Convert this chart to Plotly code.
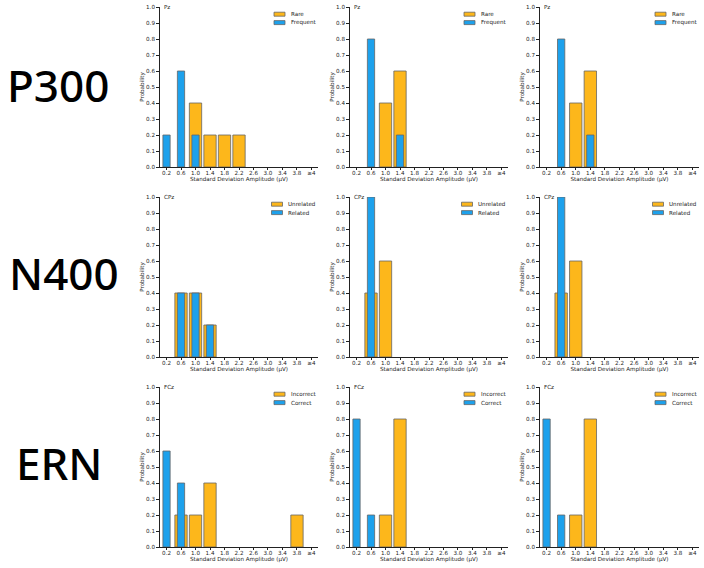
import plotly.graph_objects as go

# ---------------- data ----------------
bins = [0.2, 0.6, 1.0, 1.4, 1.8, 2.2, 2.6, 3.0, 3.4, 3.8, 4.2]
tick_labels = ["0.2", "0.6", "1.0", "1.4", "1.8", "2.2", "2.6", "3.0", "3.4", "3.8", "≥4"]

row_labels = ["P300", "N400", "ERN"]
channels = ["Pz", "CPz", "FCz"]
series_a_names = ["Rare", "Unrelated", "Incorrect"]     # orange
series_b_names = ["Frequent", "Related", "Correct"]     # blue

# P300 (Pz)
p300_rare = [
    [0, 0, 0.4, 0.2, 0.2, 0.2, 0, 0, 0, 0, 0],
    [0, 0, 0.4, 0.6, 0, 0, 0, 0, 0, 0, 0],
    [0, 0, 0.4, 0.6, 0, 0, 0, 0, 0, 0, 0],
]
p300_frequent = [
    [0.2, 0.6, 0.2, 0, 0, 0, 0, 0, 0, 0, 0],
    [0, 0.8, 0, 0.2, 0, 0, 0, 0, 0, 0, 0],
    [0, 0.8, 0, 0.2, 0, 0, 0, 0, 0, 0, 0],
]
# N400 (CPz)
n400_unrelated = [
    [0, 0.4, 0.4, 0.2, 0, 0, 0, 0, 0, 0, 0],
    [0, 0.4, 0.6, 0, 0, 0, 0, 0, 0, 0, 0],
    [0, 0.4, 0.6, 0, 0, 0, 0, 0, 0, 0, 0],
]
n400_related = [
    [0, 0.4, 0.4, 0.2, 0, 0, 0, 0, 0, 0, 0],
    [0, 1.0, 0, 0, 0, 0, 0, 0, 0, 0, 0],
    [0, 1.0, 0, 0, 0, 0, 0, 0, 0, 0, 0],
]
# ERN (FCz)
ern_incorrect = [
    [0, 0.2, 0.2, 0.4, 0, 0, 0, 0, 0, 0.2, 0],
    [0, 0, 0.2, 0.8, 0, 0, 0, 0, 0, 0, 0],
    [0, 0, 0.2, 0.8, 0, 0, 0, 0, 0, 0, 0],
]
ern_correct = [
    [0.6, 0.4, 0, 0, 0, 0, 0, 0, 0, 0, 0],
    [0.8, 0.2, 0, 0, 0, 0, 0, 0, 0, 0, 0],
    [0.8, 0.2, 0, 0, 0, 0, 0, 0, 0, 0, 0],
]

series_a = [p300_rare, n400_unrelated, ern_incorrect]
series_b = [p300_frequent, n400_related, ern_correct]

# ---------------- style ----------------
W, H = 704, 568
ORANGE = "#FDB71B"
BLUE = "#1DA1EC"
EDGE = "#666666"
FONT = "DejaVu Sans"
FS = 5.6
TXT = "#222222"

col_px = [(160, 318), (350, 508), (540, 699)]
row_px = [(7, 167), (197, 357), (387, 547)]
legend_left_offset = [44, 46.5, 44]   # px from right edge of plot to legend patch

fig = go.Figure()
layout = dict(
    width=W, height=H, margin=dict(l=0, r=0, t=0, b=0, autoexpand=False),
    paper_bgcolor="white", plot_bgcolor="white",
    barmode="overlay", font=dict(family=FONT, size=FS, color=TXT),
    showlegend=False,
)
annotations = []
shapes = []

k = 0
for r in range(3):
    for c in range(3):
        k += 1
        xa = "x" if k == 1 else f"x{k}"
        ya = "y" if k == 1 else f"y{k}"
        a_vals = series_a[r][c]
        b_vals = series_b[r][c]
        ax = [b for b, v in zip(bins, a_vals) if v > 0]
        ay = [v for v in a_vals if v > 0]
        bx = [b for b, v in zip(bins, b_vals) if v > 0]
        by = [v for v in b_vals if v > 0]
        fig.add_trace(go.Bar(
            x=ax, y=ay, width=0.34, name=series_a_names[r],
            marker=dict(color=ORANGE, line=dict(color=EDGE, width=0.8)),
            xaxis=xa, yaxis=ya, hoverinfo="skip",
        ))
        fig.add_trace(go.Bar(
            x=bx, y=by, width=0.2, name=series_b_names[r],
            marker=dict(color=BLUE, line=dict(color=EDGE, width=0.8)),
            xaxis=xa, yaxis=ya, hoverinfo="skip",
        ))
        x0, x1 = col_px[c]
        y0, y1 = row_px[r]
        pw, ph = x1 - x0, y1 - y0
        xd = [x0 / W, x1 / W]
        yd = [1 - y1 / H, 1 - y0 / H]
        xkey = "xaxis" if k == 1 else f"xaxis{k}"
        ykey = "yaxis" if k == 1 else f"yaxis{k}"
        layout[xkey] = dict(
            domain=xd, anchor=ya, range=[0.02, 4.38],
            tickmode="array", tickvals=bins, ticktext=tick_labels,
            ticks="outside", ticklen=2, tickwidth=0.8, tickcolor=TXT,
            ticklabelstandoff=-2,
            showline=True, linecolor=TXT, linewidth=0.8,
            showgrid=False, zeroline=False, fixedrange=True,
            tickfont=dict(size=FS, family=FONT, color=TXT),
            title=dict(text="Standard Deviation Amplitude (μV)",
                       font=dict(size=FS, family=FONT, color=TXT), standoff=1),
        )
        layout[ykey] = dict(
            domain=yd, anchor=xa, range=[0, 1.0],
            tickmode="array", tickvals=[i / 10 for i in range(11)],
            ticktext=[f"{i / 10:.1f}" for i in range(11)],
            ticks="outside", ticklen=3, tickwidth=0.8, tickcolor=TXT,
            showline=True, linecolor=TXT, linewidth=0.8,
            showgrid=False, zeroline=False, fixedrange=True,
            tickfont=dict(size=FS, family=FONT, color=TXT),
            title=dict(text="Probability",
                       font=dict(size=FS, family=FONT, color=TXT), standoff=1),
        )
        # channel label
        annotations.append(dict(
            text=channels[r], xref=f"{xa} domain", yref=f"{ya} domain",
            x=3 / pw, y=1.0, xanchor="left", yanchor="middle", showarrow=False,
            font=dict(size=FS, family=FONT, color=TXT), borderpad=0,
        ))
        # hand-drawn legend (patch + text) in axis-domain coordinates
        lx0 = pw - legend_left_offset[r]
        for i, (name, col) in enumerate([(series_a_names[r], ORANGE),
                                         (series_b_names[r], BLUE)]):
            cy = 7.2 + i * 8.4
            shapes.append(dict(
                type="rect", xref=f"{xa} domain", yref=f"{ya} domain",
                x0=lx0 / pw, x1=(lx0 + 11) / pw,
                y0=1 - (cy - 2) / ph, y1=1 - (cy + 2) / ph,
                fillcolor=col, line=dict(color=EDGE, width=0.8), layer="above",
            ))
            annotations.append(dict(
                text=name, xref=f"{xa} domain", yref=f"{ya} domain",
                x=(lx0 + 15.5) / pw, y=1 - cy / ph, xanchor="left", yanchor="middle",
                showarrow=False, borderpad=0,
                font=dict(size=FS, family=FONT, color=TXT),
            ))

label_x = [58, 64, 59]
label_y = [85, 273, 463]
for r in range(3):
    annotations.append(dict(
        text=row_labels[r], xref="paper", yref="paper",
        x=label_x[r] / W, y=1 - label_y[r] / H, xanchor="center", yanchor="middle",
        showarrow=False,
        font=dict(size=44, family="Noto Sans", color="black", weight=500),
    ))

layout["annotations"] = annotations
layout["shapes"] = shapes
fig.update_layout(**layout)
fig.write_html("out.html")
